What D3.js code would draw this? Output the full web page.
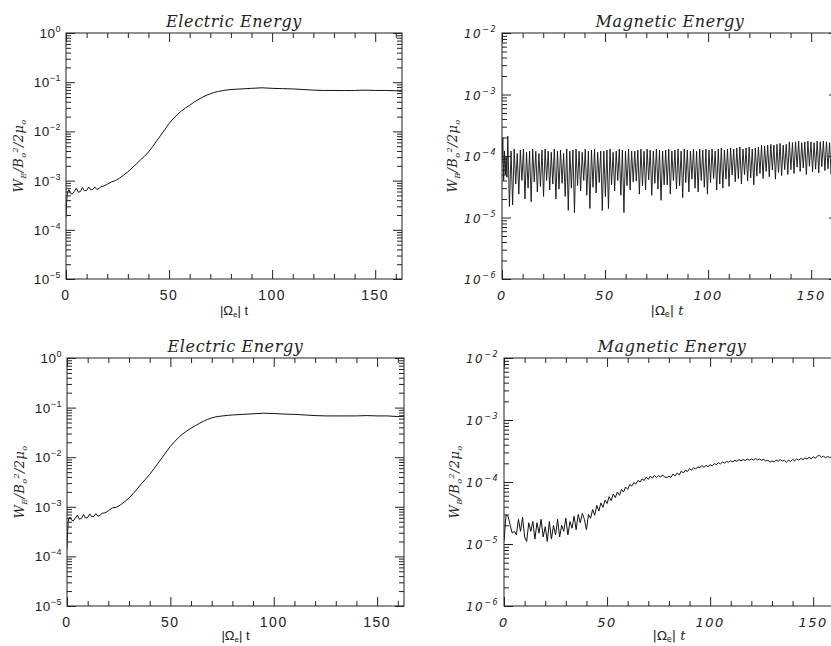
<!DOCTYPE html>
<html>
<head>
<meta charset="utf-8">
<script src="https://cdn.jsdelivr.net/npm/d3@7"></script>
<style>
  body { margin: 0; background: #fff; overflow: hidden; }
  svg { display: block; }
</style>
</head>
<body>
<svg id="chart" width="831" height="646"></svg>
<script>
// Electric energy, W_E / (B0^2/2mu0).
const elecT = [0, 0.3, 0.6, 1, 1.5, 2, 3, 4, 5, 6, 7, 8, 9, 10, 11, 12, 13, 14, 15, 16, 17, 18, 19, 20,
  22, 24, 26, 28, 30, 32, 34, 36, 38, 40, 42, 44, 46, 48, 50, 52, 54, 56, 58, 60, 62, 64, 66, 68, 70,
  72, 74, 76, 78, 80, 85, 90, 95, 100, 105, 110, 115, 120, 125, 130, 135, 140, 145, 150, 155, 160, 163];

const elecTop = [1.8e-4, 3.6e-4, 5.2e-4, 6.2e-4, 6.5e-4, 5.6e-4, 5.3e-4, 6.0e-4, 7.0e-4, 5.8e-4, 6.0e-4,
  7.2e-4, 6.2e-4, 6.3e-4, 7.4e-4, 6.5e-4, 6.6e-4, 7.4e-4, 6.6e-4, 6.9e-4, 7.6e-4, 7.7e-4, 8.0e-4, 8.4e-4,
  9.4e-4, 1.0e-3, 1.12e-3, 1.3e-3, 1.5e-3, 1.8e-3, 2.15e-3, 2.6e-3, 3.1e-3, 3.8e-3, 4.9e-3, 6.4e-3, 8.4e-3,
  1.1e-2, 1.45e-2, 1.8e-2, 2.2e-2, 2.6e-2, 3.0e-2, 3.4e-2, 3.9e-2, 4.4e-2, 4.9e-2, 5.4e-2, 5.8e-2, 6.2e-2,
  6.5e-2, 6.75e-2, 6.95e-2, 7.1e-2, 7.3e-2, 7.5e-2, 7.7e-2, 7.5e-2, 7.4e-2, 7.3e-2, 7.1e-2, 6.9e-2, 6.8e-2,
  6.8e-2, 6.75e-2, 6.8e-2, 6.9e-2, 6.8e-2, 6.8e-2, 6.7e-2, 6.5e-2];

const elecBottom = [1.4e-4, 3.2e-4, 5.0e-4, 6.0e-4, 6.2e-4, 5.5e-4, 5.2e-4, 5.9e-4, 6.8e-4, 5.6e-4, 5.9e-4,
  7.0e-4, 5.9e-4, 6.1e-4, 7.2e-4, 6.3e-4, 6.4e-4, 7.3e-4, 6.4e-4, 6.8e-4, 7.4e-4, 7.5e-4, 7.8e-4, 8.3e-4,
  9.5e-4, 9.8e-4, 1.1e-3, 1.28e-3, 1.5e-3, 1.85e-3, 2.3e-3, 2.9e-3, 3.6e-3, 4.5e-3, 5.8e-3, 7.5e-3, 9.8e-3,
  1.28e-2, 1.65e-2, 2.05e-2, 2.5e-2, 2.95e-2, 3.4e-2, 3.85e-2, 4.3e-2, 4.8e-2, 5.3e-2, 5.8e-2, 6.2e-2, 6.5e-2,
  6.7e-2, 6.85e-2, 7.0e-2, 7.1e-2, 7.3e-2, 7.5e-2, 7.7e-2, 7.6e-2, 7.4e-2, 7.3e-2, 7.1e-2, 6.9e-2, 6.8e-2,
  6.8e-2, 6.8e-2, 6.8e-2, 6.9e-2, 6.8e-2, 6.8e-2, 6.6e-2, 6.7e-2];

// Magnetic energy, top right: fast oscillation, values in units of 1e-5.
const magTopStartT = [0, 0.4, 0.8, 1.2, 1.6, 2.0, 2.4, 2.8, 3.6];
const magTopStartV = [8, 20, 4, 12, 5, 10, 4.5, 21, 1.5];
const magTopT0 = 4.4, magTopStep = 0.75;
const magTopV = [
  12, 1.6, 13, 3.5, 11, 2.4, 12.5, 4, 13, 2, 11.5, 3, 12, 1.8, 13, 3.8, 12, 2.6, 11, 3.2,
  12.5, 2.2, 13, 4, 12, 2.8, 11.5, 3.5, 13, 2, 12, 2.9, 12.5, 3.6, 11, 2.2, 13, 1.3, 12, 3,
  12.5, 1.2, 13, 3.3, 12, 2.7, 11.5, 4, 13, 2.3, 12, 1.4, 12.5, 3.1, 13, 2.5, 11.5, 3.7, 12, 1.3,
  12, 2.2, 12.5, 1.4, 13, 3.4, 11.5, 2.7, 12, 4, 13, 2.3, 12.5, 1.2, 12, 3.3, 13, 2.8, 12, 3.8,
  12, 3.9, 12.5, 2.4, 13, 3.3, 12, 2.8, 13, 4.1, 12.5, 2.3, 12, 3.6, 13, 2.9, 12.5, 1.9, 12, 3.4,
  12.5, 3.4, 13, 2.4, 12, 4, 12.5, 2.9, 13, 3.3, 12, 2.1, 13, 3.7, 12.5, 2.6, 12, 4.2, 13, 3,
  12, 2.6, 13, 4, 12.5, 3.1, 13, 2.4, 12.5, 3.7, 13, 4.3, 12, 2.8, 13, 3.5, 13.5, 3, 12.5, 4.2,
  13, 3.2, 13.5, 4.9, 13, 3.8, 13.5, 4.3, 14, 3.5, 13, 5, 13.5, 3.9, 14, 4.4, 13, 3.4, 13.5, 4.7,
  14, 5.2, 15, 4.3, 14.5, 5.6, 15, 4.6, 15.5, 5.9, 15, 4.2, 15.5, 5.4, 16, 4.8, 15, 6, 15.5, 5,
  17, 6, 16.5, 5.2, 17, 6.6, 17.5, 5.6, 16.5, 6.4, 17, 5, 17.5, 6.8, 17, 5.5, 16.5, 6.1, 17.5, 5.3,
  17, 6.7, 17.5, 5.8, 17, 6.2, 16.5, 5.1, 17.5, 6.9, 17, 5.7, 16.5
];

// Magnetic energy, bottom right: one value per unit of t, in units of 1e-5.
const magBottomV = [
  1.1, 2.9, 2.8, 2.0, 1.5, 1.6, 1.4, 2.5, 1.6, 2.7,
  1.3, 1.1, 2.2, 1.6, 2.3, 1.2, 2.2, 1.5, 2.5, 1.3,
  1.9, 1.1, 2.3, 1.2, 2.0, 1.4, 2.5, 1.3, 2.0, 1.6,
  2.6, 1.4, 2.3, 1.8, 2.8, 1.7, 3.0, 2.2, 3.1, 2.5,
  1.7, 3.0, 2.6, 3.6, 2.9, 4.2, 3.4, 4.6, 3.9, 5.1,
  4.5, 5.8, 5.0, 6.4, 5.6, 6.9, 6.1, 7.6, 6.9, 8.3,
  7.6, 9.1, 8.6, 9.8, 9.3, 10.6, 10, 11.2, 10.6, 12,
  11, 12.5, 11.5, 12.8, 11.8, 12.6, 12, 13, 12, 11.8,
  12.4, 11.9, 13.5, 12.5, 14, 13, 15, 14, 15.5, 14.8,
  16.5, 15.5, 17, 16.2, 17.5, 17, 18.5, 17.2, 18.5, 17.8,
  19, 18.2, 19.8, 19, 20.5, 19.6, 21, 20.2, 21.5, 20.8,
  22, 21.2, 22.5, 21.5, 23, 22, 23, 22.2, 23.5, 22.5,
  23.5, 22.6, 23.8, 22.8, 23.5, 22.4, 23.2, 21.8, 22.6, 20.8,
  22, 21, 22.5, 21.6, 23, 21.8, 22.4, 20.8, 22.6, 21.4,
  23.2, 22, 23.6, 22.5, 24, 23, 24.5, 23.4, 25, 23.8,
  25.5, 24.2, 26, 27, 25.2, 26, 24.6, 25.8, 24.8, 25.5,
  24.6
];

const xMax = 163;
const xMajor = [0, 50, 100, 150];
const elecDomain = [1e-5, 1];
const magDomain = [1e-6, 1e-2];
const unit = 1e-5;

const magTopData = magTopStartT.map((t, i) => [t, magTopStartV[i] * unit])
  .concat(magTopV.map((v, i) => [magTopT0 + i * magTopStep, v * unit]));
const magBottomData = magBottomV.map((v, i) => [i, v * unit]);

const svg = d3.select('#chart');
const ink = '#222';

function drawPanel(p) {
  const x = d3.scaleLinear().domain([0, xMax]).range([p.left, p.left + p.width]);
  const y = d3.scaleLog().domain(p.yDomain).range([p.top + p.height, p.top]);
  const g = svg.append('g');
  const bottom = p.top + p.height;

  g.append('clipPath').attr('id', 'clip-' + p.id)
    .append('rect')
    .attr('x', p.left).attr('y', p.top)
    .attr('width', p.width).attr('height', p.height);

  // curve
  g.append('path')
    .datum(p.data)
    .attr('clip-path', 'url(#clip-' + p.id + ')')
    .attr('fill', 'none')
    .attr('stroke', '#111')
    .attr('stroke-width', p.lineWidth || 1)
    .attr('stroke-linejoin', 'round')
    .attr('d', d3.line().x(d => x(d[0])).y(d => y(d[1])));

  // ticks, all pointing inwards
  const yAll = y.ticks();
  const decades = yAll.filter(v => Math.abs(Math.log10(v) - Math.round(Math.log10(v))) < 1e-9);
  const yMinor = yAll.filter(v => decades.indexOf(v) < 0);
  const xMinor = d3.range(0, xMax, 10).filter(v => xMajor.indexOf(v) < 0);

  function ax(gen, tr, vals, size) {
    const a = g.append('g').attr('transform', tr)
      .call(gen.tickValues(vals).tickSize(size).tickSizeOuter(0).tickFormat(''));
    a.select('.domain').remove();
    a.selectAll('line').attr('stroke', ink);
  }
  ax(d3.axisBottom(x), `translate(0,${bottom})`, xMajor, -9);
  ax(d3.axisBottom(x), `translate(0,${bottom})`, xMinor, -5);
  ax(d3.axisTop(x), `translate(0,${p.top})`, xMajor, -9);
  ax(d3.axisTop(x), `translate(0,${p.top})`, xMinor, -5);
  ax(d3.axisLeft(y), `translate(${p.left},0)`, decades, -9);
  ax(d3.axisLeft(y), `translate(${p.left},0)`, yMinor, -5);
  ax(d3.axisRight(y), `translate(${p.left + p.width},0)`, decades, -9);
  ax(d3.axisRight(y), `translate(${p.left + p.width},0)`, yMinor, -5);

  // frame
  g.append('rect')
    .attr('x', p.left).attr('y', p.top)
    .attr('width', p.width).attr('height', p.height)
    .attr('fill', 'none').attr('stroke', ink).attr('stroke-width', 1);

  const tickFont = p.hershey ? 'DejaVu Sans' : 'Liberation Sans';
  const tickStyle = p.hershey ? 'italic' : 'normal';

  // x tick labels
  g.selectAll('.xl').data(xMajor).join('text')
    .attr('x', d => x(d)).attr('y', bottom + 21)
    .attr('text-anchor', 'middle')
    .attr('font-family', tickFont).attr('font-style', tickStyle)
    .attr('font-size', p.hershey ? 13 : 14)
    .attr('letter-spacing', 1.5)
    .attr('fill', ink)
    .text(d => d);

  // y tick labels 10^n
  const yl = g.selectAll('.yl').data(decades).join('text')
    .attr('x', p.left - 5).attr('y', d => y(d) + 5)
    .attr('text-anchor', 'end')
    .attr('font-family', tickFont).attr('font-style', tickStyle)
    .attr('font-size', p.hershey ? 12 : 13.5)
    .attr('letter-spacing', p.hershey ? 1.5 : 0.5)
    .attr('fill', ink);
  yl.append('tspan').text('10');
  yl.append('tspan').attr('dy', -6).attr('font-size', p.hershey ? 8 : 9)
    .text(d => { const e = Math.round(Math.log10(d)); return e === 0 ? '0' : '\u2212' + (-e); });

  // title
  g.append('text')
    .attr('x', p.left + p.width / 2).attr('y', p.top - 6)
    .attr('text-anchor', 'middle')
    .attr('font-family', 'DejaVu Serif').attr('font-style', 'italic')
    .attr('font-size', 16).attr('letter-spacing', 0.6).attr('fill', ink)
    .text(p.title);

  // x axis label |Omega_e| t
  const xt = g.append('text')
    .attr('x', p.left + p.width / 2 - (p.hershey ? 3 : 0)).attr('y', bottom + p.xlabOff)
    .attr('text-anchor', 'middle')
    .attr('font-family', tickFont)
    .attr('font-size', 13).attr('fill', ink);
  xt.append('tspan').text('|\u03a9');
  xt.append('tspan').attr('dy', 2).attr('font-size', 8).text('e');
  xt.append('tspan').attr('dy', -2).text('| ');
  xt.append('tspan').attr('font-style', tickStyle).attr('font-family', p.hershey ? 'DejaVu Serif' : tickFont).text('t');

  // y axis label W/B0^2/2mu0
  const cy = p.top + p.height / 2;
  const ylab = g.append('text')
    .attr('transform', `translate(${p.left - p.ylabOff},${cy}) rotate(-90)`)
    .attr('text-anchor', 'middle')
    .attr('font-family', 'DejaVu Serif').attr('font-style', 'italic')
    .attr('font-size', 13).attr('letter-spacing', 0.4).attr('fill', ink);
  ylab.append('tspan').text('W');
  ylab.append('tspan').attr('dy', 3).attr('font-size', 8).text(p.sub);
  ylab.append('tspan').attr('dy', -3).text('/B');
  ylab.append('tspan').attr('dy', 3).attr('font-size', 8).text('o');
  ylab.append('tspan').attr('dy', -8).attr('font-size', 8).text('2');
  ylab.append('tspan').attr('dy', 5).text('/2\u03bc');
  ylab.append('tspan').attr('dy', 3).attr('font-size', 8).text('o');
}

drawPanel({ id: 'tl', left: 66, top: 33, width: 336, height: 246, yDomain: elecDomain, xlabOff: 36,
  data: elecT.map((t, i) => [t, elecTop[i]]), title: 'Electric Energy', sub: 'E', ylabOff: 43 });
drawPanel({ id: 'tr', left: 502, top: 33, width: 336, height: 246, yDomain: magDomain, lineWidth: 0.9, xlabOff: 36,
  data: magTopData, title: 'Magnetic Energy', sub: 'B', hershey: true, ylabOff: 45 });
drawPanel({ id: 'bl', left: 67, top: 358, width: 337, height: 248, yDomain: elecDomain, xlabOff: 34,
  data: elecT.map((t, i) => [t, elecBottom[i]]), title: 'Electric Energy', sub: 'E', ylabOff: 43 });
drawPanel({ id: 'br', left: 504, top: 358, width: 336, height: 248, yDomain: magDomain, xlabOff: 34,
  data: magBottomData, title: 'Magnetic Energy', sub: 'B', hershey: true, ylabOff: 45 });
</script>
</body>
</html>
